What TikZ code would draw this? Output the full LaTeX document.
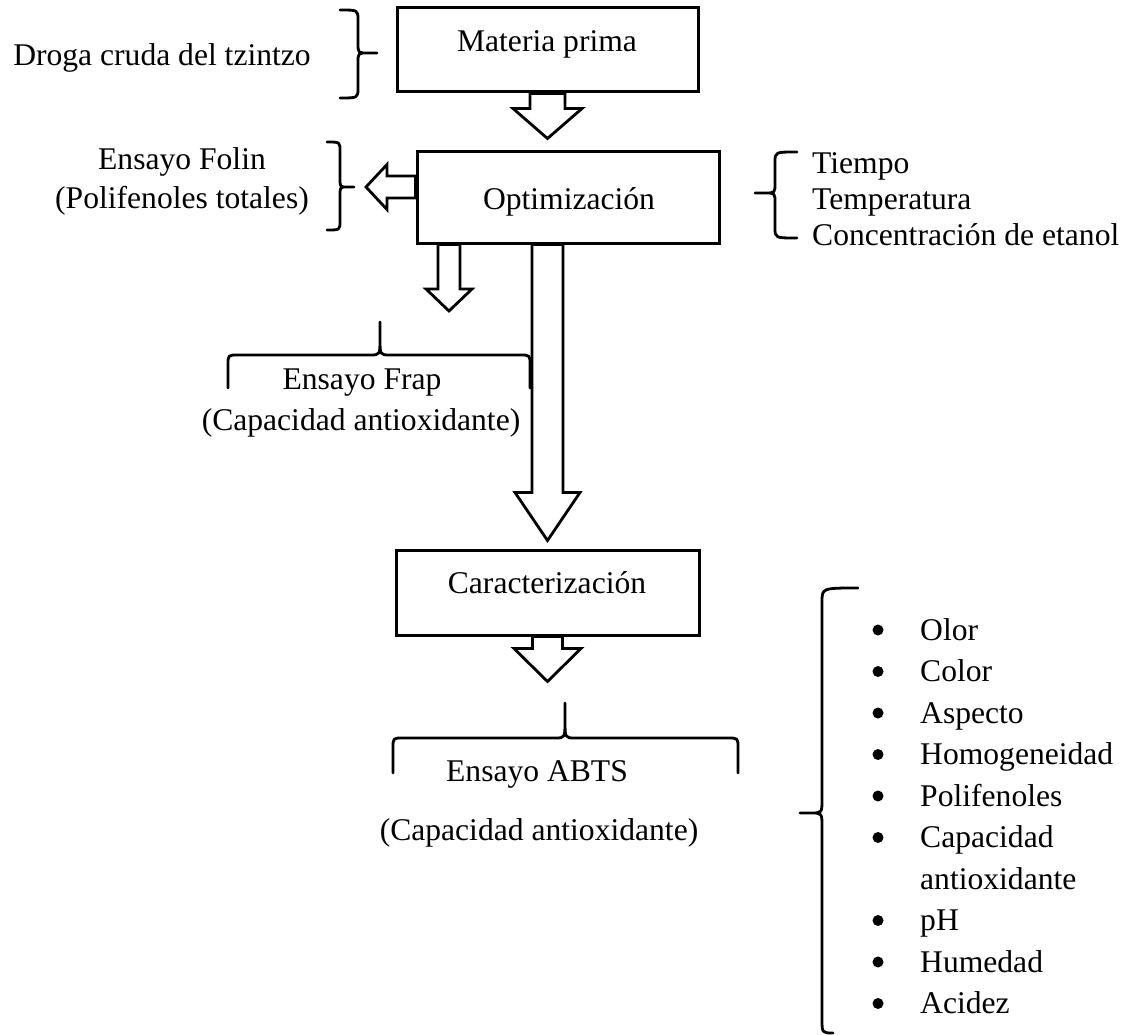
\documentclass[tikz,border=0pt]{standalone}
\usepackage{fontspec}
\setmainfont{Liberation Serif}
\usetikzlibrary{calc}
% block arrow pointing down: #1 start, #2 tip, #3 shaft half width, #4 head half width, #5 head length
\newcommand{\blockdown}[5]{\draw[blk] ($(#1)+(-#3,0)$) -- ($(#2)+(-#3,-#5)$) -- ($(#2)+(-#4,-#5)$) -- (#2) -- ($(#2)+(#4,-#5)$) -- ($(#2)+(#3,-#5)$) -- ($(#1)+(#3,0)$) -- cycle;}
% block arrow pointing left
\newcommand{\blockleft}[5]{\draw[blk] ($(#1)+(0,-#3)$) -- ($(#2)+(#5,-#3)$) -- ($(#2)+(#5,-#4)$) -- (#2) -- ($(#2)+(#5,#4)$) -- ($(#2)+(#5,#3)$) -- ($(#1)+(0,#3)$) -- cycle;}
% vertical brace: #1 top end x, #2 spine x, #3 tip x, #4 top y, #5 tip y, #6 bottom y, #7 radius, #8 bottom end x
\newcommand{\vbrace}[8]{\draw[brc] (#1,#4) .. controls (#2,#4) .. (#2,{#4+#7}) -- (#2,{#5-#7}) .. controls (#2,#5) .. ({(#2+#3)/2},#5) -- (#3,#5) -- ({(#2+#3)/2},#5) .. controls (#2,#5) .. (#2,{#5+#7}) -- (#2,{#6-#7}) .. controls (#2,#6) .. (#8,#6);}
% horizontal brace opening down: #1 left x, #2 tip x, #3 right x, #4 end y, #5 bar y, #6 tip y, #7 radius
\newcommand{\hbrace}[7]{\draw[brc] (#1,#4) -- (#1,{#5+#7}) .. controls (#1,#5) .. ({#1+#7},#5) -- ({#2-#7},#5) .. controls (#2,#5) .. (#2,{(#5+#6)/2}) -- (#2,#6) -- (#2,{(#5+#6)/2}) .. controls (#2,#5) .. ({#2+#7},#5) -- ({#3-#7},#5) .. controls (#3,#5) .. (#3,{#5+#7}) -- (#3,#4);}
\begin{document}
\begin{tikzpicture}[x=1pt,y=-1pt,
  every node/.style={font=\fontsize{31.6}{36}\selectfont, inner sep=0pt},
  box/.style={draw, line width=3pt},
  blk/.style={draw, fill=white, line width=2.8pt, line join=miter},
  brc/.style={draw, line width=2.8pt, line cap=round, line join=round},
  lbl/.style={anchor=base},
  lblw/.style={anchor=base west},
  dot/.style={fill=black}]
\fill[white] (0,0) rectangle (1135,1035);
\useasboundingbox (0,0) rectangle (1135,1035);

% boxes
\node[box, minimum width=301pt, minimum height=84pt] (mat) at (547.5,50) {};
\node[lbl] (matT) at (547,52) {Materia prima};
\node[box, minimum width=302pt, minimum height=91pt] (opt) at (568,197.5) {};
\node[lbl] (optT) at (569,210) {Optimización};
\node[box, minimum width=303pt, minimum height=85pt] (car) at (547.5,592.5) {};
\node[lbl] (carT) at (547,593) {Caracterización};

% block arrows
\coordinate (t1) at ($(mat.south)+(0,45)$);
\blockdown{mat.south}{t1}{17.5}{34.5}{30}
\coordinate (t2) at (366,187);
\coordinate (s2) at (opt.west |- t2);
\blockleft{s2}{t2}{11}{22.5}{21}
\coordinate (t3) at (449,311);
\coordinate (s3) at (t3 |- opt.south);
\blockdown{s3}{t3}{11}{23}{22}
\coordinate (t4) at ($(car.north)+(0,-8)$);
\coordinate (s4) at (car.north |- opt.south);
\blockdown{s4}{t4}{15.5}{32.5}{48}
\coordinate (t5) at ($(car.south)+(0,45)$);
\blockdown{car.south}{t5}{15}{33.5}{33}

% braces
\vbrace{340}{358}{377}{10}{53}{98}{10}{340}
\vbrace{327}{340}{354}{142}{187}{230}{9}{327}
\vbrace{797}{775}{755}{152}{193}{238}{10}{797}
\vbrace{858}{822}{800}{588}{813}{1033}{14}{833}
\hbrace{228}{380}{530}{388}{355}{322}{10}
\hbrace{393}{565}{738}{773}{738}{703}{10}

% side texts
\node[lbl] (droga) at (162,66) {Droga cruda del tzintzo};
\node[lbl] (folin1) at (182,170) {Ensayo Folin};
\node[lbl] (folin2) at (182,208) {(Polifenoles totales)};
\node[lbl] (frap1) at (362,389) {Ensayo Frap};
\node[lbl] (frap2) at (361,430) {(Capacidad antioxidante)};
\node[lbl] (abts1) at (537,781) {Ensayo ABTS};
\node[lbl] (abts2) at (539,840) {(Capacidad antioxidante)};
\node[lblw] (p1) at (812,174) {Tiempo};
\node[lblw] (p2) at (812,210) {Temperatura};
\node[lblw] (p3) at (812,246) {Concentración de etanol};

% bullet list
\foreach \t/\yy [count=\i] in {Olor/640,Color/681.5,Aspecto/723,Homogeneidad/764.5,Polifenoles/806,Capacidad/847.5,pH/930.5,Humedad/972,Acidez/1013.5}{
  \fill[dot] (878,\yy-10) circle (5.5pt);
  \node[lblw] (b\i) at (920,\yy) {\t};
}
\node[lblw] (b6b) at (920,889) {antioxidante};
\end{tikzpicture}
\end{document}
